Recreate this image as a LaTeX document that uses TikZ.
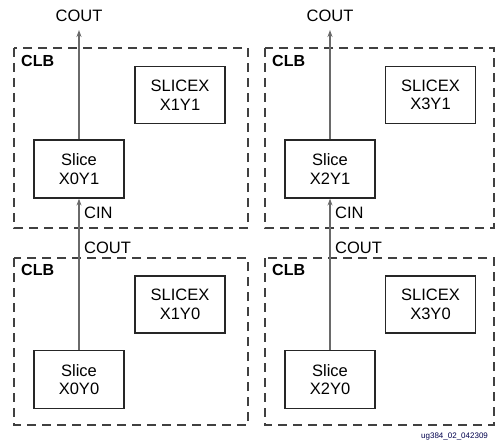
\documentclass[tikz,border=0pt]{standalone}
\usepackage{fontspec}
\setmainfont{Liberation Sans}
\usetikzlibrary{arrows.meta}
\definecolor{wire}{HTML}{6A6A6A}
\definecolor{frame}{HTML}{404040}
\tikzset{
  clbframe/.style={draw=frame, line width=1.6pt, dash pattern=on 9pt off 6pt},
  slicebox/.style={draw=black!85, line width=1.2pt, minimum width=90pt, minimum height=58pt,
    inner sep=0pt, align=center, font=\fontsize{16.5}{18.5}\selectfont},
  lbl/.style={inner sep=0pt, font=\fontsize{16.5}{18.5}\selectfont},
  clblbl/.style={inner sep=0pt, anchor=west, font=\fontsize{16}{18}\selectfont\bfseries},
  carry/.style={draw=wire, line width=1.8pt},
  carryarrow/.style={carry, -{Stealth[length=7pt,width=5pt]}},
}
\begin{document}
\begin{tikzpicture}[x=1pt, y=-1pt]
\useasboundingbox (0,0) rectangle (496,444);

% CLB frames
\draw[clbframe] (14,48) rectangle (248,228);
\draw[clbframe] (14,258) rectangle (248,425);
\draw[clbframe] (265,48) rectangle (494,228);
\draw[clbframe] (265,258) rectangle (494,425);

\node[clblbl] (clbA) at (21,61) {CLB};
\node[clblbl] (clbB) at (21,270) {CLB};
\node[clblbl] (clbC) at (272,61) {CLB};
\node[clblbl] (clbD) at (272,270) {CLB};

% slices
\node[slicebox] (s01) at (79,169) {Slice\\X0Y1};
\node[slicebox] (s00) at (79,379.5) {Slice\\X0Y0};
\node[slicebox] (s21) at (330,169) {Slice\\X2Y1};
\node[slicebox] (s20) at (330,379.5) {Slice\\X2Y0};

\node[slicebox, minimum height=57pt] (x11) at (180,95) {SLICEX\\X1Y1};
\node[slicebox, minimum height=57pt] (x10) at (180,304.5) {SLICEX\\X1Y0};
\node[slicebox, minimum height=57pt] (x31) at (430.5,95) {SLICEX\\X3Y1};
\node[slicebox, minimum height=57pt] (x30) at (430.5,304.5) {SLICEX\\X3Y0};

% carry chain
\coordinate (coA) at (79,30);
\coordinate (coC) at (330,30);
\node[lbl] (coutA) at (79,16) {COUT};
\node[lbl] (coutC) at (330,16) {COUT};
\draw[carryarrow] (s01.north) -- (coA);
\draw[carryarrow] (s21.north) -- (coC);
\draw[carryarrow] (s00.north) -- (s01.south);
\draw[carryarrow] (s20.north) -- (s21.south);

\node[lbl, anchor=west] (cinA) at (84,213) {CIN};
\node[lbl, anchor=west] (cinC) at (335,213) {CIN};
\node[lbl, anchor=west] (coutB) at (84,248) {COUT};
\node[lbl, anchor=west] (coutD) at (335,248) {COUT};

\node[inner sep=0pt, anchor=west, text=blue!30!black, font=\fontsize{8}{9}\selectfont] (tag) at (421,437) {ug384\_02\_042309};
\end{tikzpicture}
\end{document}
